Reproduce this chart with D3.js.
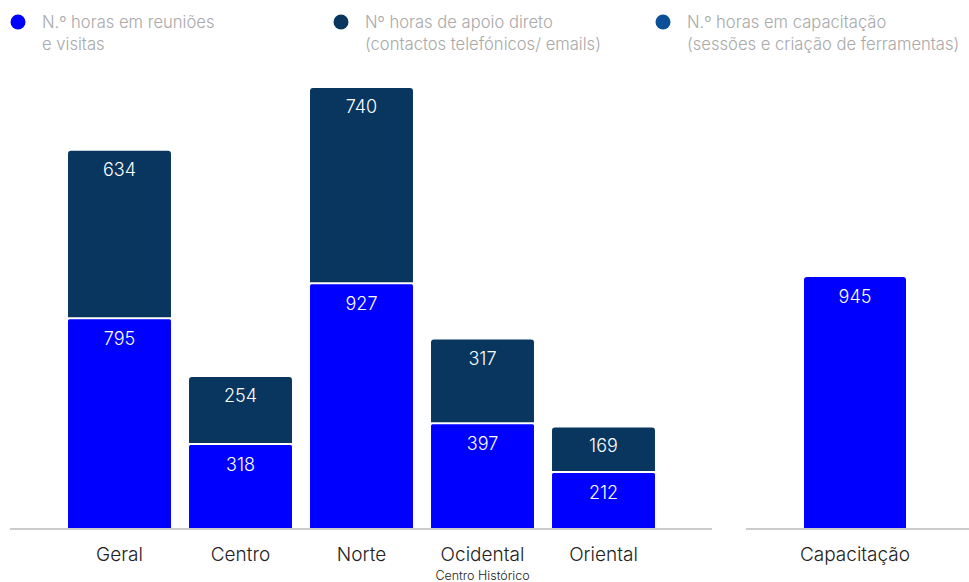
<!DOCTYPE html>
<html><head><meta charset="utf-8">
<script src="https://cdn.jsdelivr.net/npm/d3@7"></script>
<style>body{margin:0;background:#fff}svg{display:block;font-family:Inter,"Noto Sans",sans-serif}</style>
</head><body><svg id="c" width="969" height="582"></svg>
<script>
const categories = ["Geral","Centro","Norte","Ocidental","Oriental"];
const subtitles = ["","","","Centro Histórico",""];
const reunioes = [795,318,927,397,212];
const apoio = [634,254,740,317,169];
const capCategories = ["Capacitação"];
const capacitacao = [945];
const legendLabels = [["N.º horas em reuniões","e visitas"],["Nº horas de apoio direto","(contactos telefónicos/ emails)"],["N.º horas em capacitação","(sessões e criação de ferramentas)"]];
const colors = ["#0000ff","#08365f","#0b4f97"];

const svg = d3.select("#c");
const base = 528;
const x = d3.scaleBand().domain(categories).range([8,715]).paddingInner(0.149).paddingOuter(0.496);
const y = d3.scaleLinear().domain([0,1700]).range([base,79.3]);
const x2 = d3.scaleBand().domain(capCategories).range([746,964]).paddingInner(0).paddingOuter(0.5686);
const y2 = d3.scaleLinear().domain([0,1700]).range([base,76.5]);

// legend
const lx = [18,341,663];
legendLabels.forEach((l,i)=>{
  const g = svg.append("g");
  g.append("circle").attr("cx",lx[i]).attr("cy",22).attr("r",7.5).attr("fill",colors[i]);
  l.forEach((t,j)=>g.append("text").attr("x",lx[i]+24).attr("y",28+j*22).attr("font-size",16.6).attr("font-weight",300).attr("fill","#a9a9a9").text(t));
});

function topRounded(x0,y0,w,h,r){
  return `M${x0},${y0+h}V${y0+r}Q${x0},${y0} ${x0+r},${y0}H${x0+w-r}Q${x0+w},${y0} ${x0+w},${y0+r}V${y0+h}Z`;
}
const gap = 1;
categories.forEach((c,i)=>{
  const bx = x(c), bw = x.bandwidth();
  const yb = y(reunioes[i]);
  svg.append("path").attr("d",topRounded(bx,yb+gap,bw,base-yb-gap,1.5)).attr("fill",colors[0]);
  const yt = y(reunioes[i]+apoio[i]);
  svg.append("path").attr("d",topRounded(bx,yt,bw,yb-yt-gap,3)).attr("fill",colors[1]);
  svg.append("text").attr("x",bx+bw/2).attr("y",yb+27).attr("text-anchor","middle").attr("font-size",18).attr("font-weight",300).attr("fill","#fff").text(reunioes[i]);
  svg.append("text").attr("x",bx+bw/2).attr("y",yt+25).attr("text-anchor","middle").attr("font-size",18).attr("font-weight",300).attr("fill","#fff").text(apoio[i]);
});
capCategories.forEach((c,i)=>{
  const bx = x2(c), bw = x2.bandwidth();
  const yb = y2(capacitacao[i]);
  svg.append("path").attr("d",topRounded(bx,yb,bw,base-yb,3)).attr("fill",colors[0]);
  svg.append("text").attr("x",bx+bw/2).attr("y",yb+26).attr("text-anchor","middle").attr("font-size",18).attr("font-weight",300).attr("fill","#fff").text(capacitacao[i]);
});

// axes
const ax1 = svg.append("g").attr("transform",`translate(0,${base+1})`).call(d3.axisBottom(x).tickSize(0).tickPadding(19));
const ax2 = svg.append("g").attr("transform",`translate(0,${base+1})`).call(d3.axisBottom(x2).tickSize(0).tickPadding(19));
[ax1,ax2].forEach(a=>{
  a.select(".domain").attr("stroke","#cccccc").attr("stroke-width",2);
  a.selectAll("text").attr("font-size",19).attr("font-weight",300).attr("fill","#222").attr("font-family","Inter,'Noto Sans',sans-serif");
});
ax1.select(".domain").attr("d","M10,0H712");
ax2.select(".domain").attr("d","M746,0H969");
ax1.selectAll(".tick").each(function(d,i){
  if(subtitles[i]) d3.select(this).append("text").attr("y",51).attr("text-anchor","middle").attr("font-size",12.5).attr("font-weight",300).attr("fill","#222").attr("font-family","Inter,'Noto Sans',sans-serif").text(subtitles[i]);
});
</script></body></html>
